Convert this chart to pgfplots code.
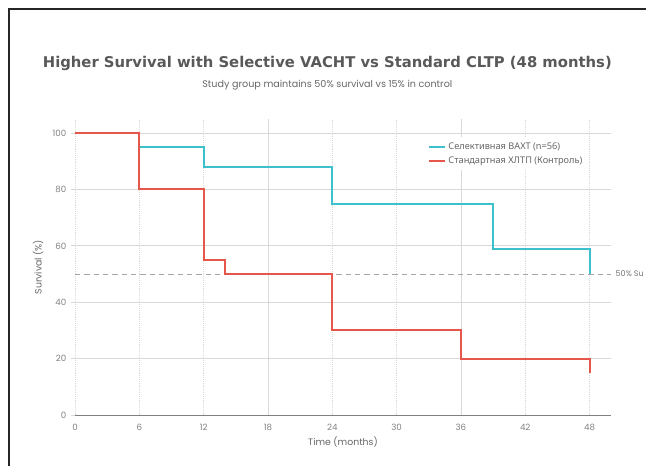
\documentclass[border=0pt]{standalone}
\usepackage{pgfplots}
\pgfplotsset{compat=1.18}
\usepackage{fontspec}
\setmainfont{Poppins}
\newfontfamily\titlefont{DejaVu Sans}
\newfontfamily\cyr{Noto Sans}
\definecolor{cblue}{HTML}{3DBFCC}
\definecolor{cred}{HTML}{E5574B}
\definecolor{txt}{HTML}{666666}
\definecolor{gridc}{HTML}{D9D9D9}
\begin{document}
\begin{tikzpicture}
\path[use as bounding box] (0,0) rectangle (484.5pt,348.75pt);
\draw[line width=1.5pt, color=black!85] (6.75pt,-5pt) -- (6.75pt,342pt) -- (495pt,342pt);
\node[font=\titlefont\bfseries\fontsize{11.1}{13}\selectfont, text=black!65] at (245.5pt,301.5pt) {Higher Survival with Selective VACHT vs Standard CLTP (48 months)};
\node[font=\fontsize{7.2}{8}\selectfont, text=txt] at (245.5pt,285pt) {Study group maintains 50\% survival vs 15\% in control};
\begin{axis}[
  at={(56.25pt,37.5pt)}, anchor=south west,
  width=402pt, height=222pt, scale only axis,
  xmin=0, xmax=50, ymin=0, ymax=105,
  xtick={0,6,...,48}, ytick={0,20,...,100},
  axis x line*=bottom, axis y line*=left,
  x axis line style={draw=black!50, line width=0.7pt, -},
  y axis line style={draw=none},
  xmajorgrids, ymajorgrids,
  x grid style={gridc, densely dotted, line width=0.6pt},
  y grid style={gridc, line width=0.6pt},
  major x tick style={draw=none},
  major y tick style={draw=gridc, line width=0.6pt},
  tick align=outside, major tick length=3pt,
  tick label style={font=\fontsize{6.5}{8}\selectfont, text=black!50},
  /pgf/number format/assume math mode=true,
  xlabel={Time (months)}, ylabel={Survival (\%)},
  label style={font=\fontsize{7}{8}\selectfont, text=txt},
  xlabel style={at={(axis description cs:0.5,-0.09)}, anchor=center},
  ylabel style={at={(axis description cs:-0.069,0.5)}, anchor=center},
  legend style={at={(0.653,0.94)}, anchor=north west, draw=none, fill=white,
    font=\cyr\fontsize{6.9}{8}\selectfont, text=black!60, row sep=0pt, inner sep=2pt},
  legend cell align=left,
  legend image code/.code={\draw[#1] (0pt,0pt) -- (12pt,0pt);},
  clip=false,
]
\addlegendimage{draw=cblue, color=cblue, line width=1.4pt}
\addlegendentry{Селективная ВАХТ (n=56)}
\addlegendimage{draw=cred, color=cred, line width=1.4pt}
\addlegendentry{Стандартная ХЛТП (Контроль)}
\draw[gridc, line width=0.6pt] (axis cs:18,0) -- (axis cs:18,105);
\draw[gridc, line width=0.6pt] (axis cs:36,0) -- (axis cs:36,105);
\draw[black!35, dashed, dash pattern=on 4pt off 3pt, line width=0.6pt] (axis cs:0,50) -- (axis cs:50,50);
\node[anchor=west, font=\fontsize{6}{7}\selectfont, text=black!55] at (axis cs:50,50) {50\% Su};
\addplot[forget plot, color=cblue, line width=1.5pt, const plot] coordinates {(0,100) (6,95) (12,88) (24,75) (39,59) (48,50)};
\addplot[forget plot, color=cred, line width=1.5pt, const plot] coordinates {(0,100) (6,80) (12,55) (14,50) (24,30) (36,20) (48,15)};
\end{axis}
\end{tikzpicture}
\end{document}
